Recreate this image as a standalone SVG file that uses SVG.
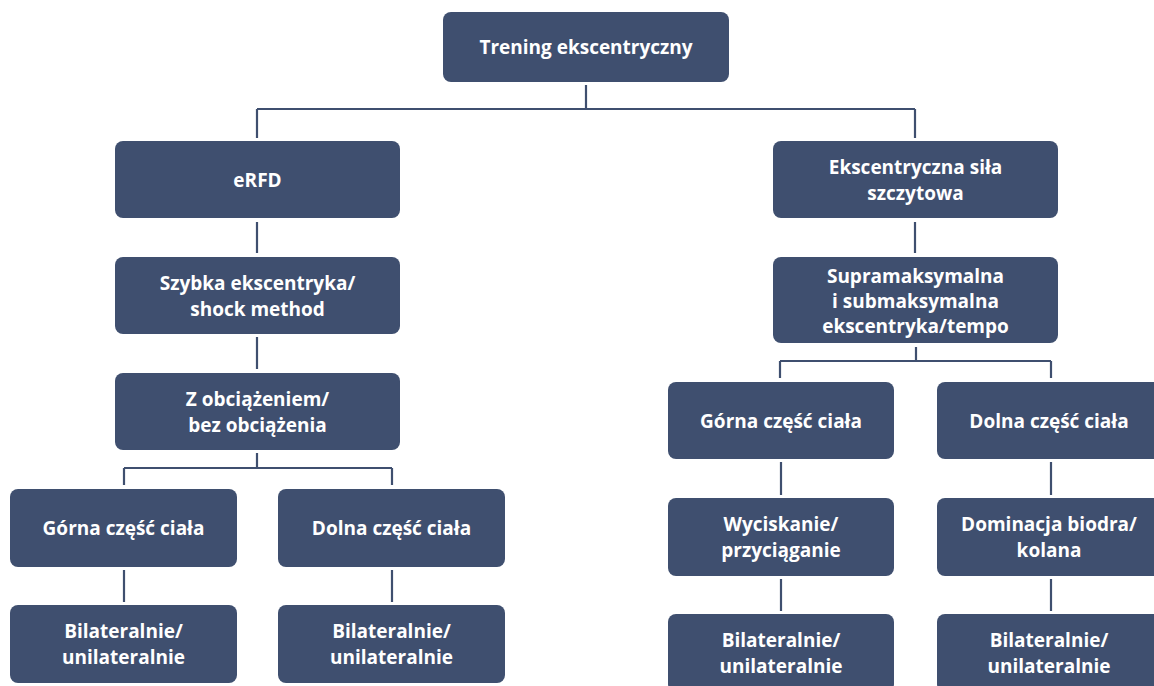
<svg xmlns="http://www.w3.org/2000/svg" width="1154" height="686" viewBox="0 0 1154 686">
<style>
.box{fill:#3f4f6f;}
.t{fill:#ffffff;font-family:"Open Sans","Liberation Sans",sans-serif;font-weight:700;font-size:19px;text-anchor:middle;}
.c{stroke:#3f4f6f;stroke-width:2.2;fill:none;}
</style>
<rect width="1154" height="686" fill="#ffffff"/>
<g id="connectors">
<path class="c" d="M586,85V109M257,109H915M257,109V138M915,109V138"/>
<path class="c" d="M257,222V253M257,337V369M257,453V468M124,468H392M124,468V485M392,468V485M124,570V602M392,570V602"/>
<path class="c" d="M915,222V253M916,347V361M780,361H1051M780,361V378M1051,361V378"/>
<path class="c" d="M781,462V495M781,579V611M1051,462V495M1051,579V611"/>
</g>
<g id="n-root"><rect class="box" x="443" y="12" width="286" height="70" rx="8"/><text class="t" x="586" y="54">Trening ekscentryczny</text></g>
<g id="n-erfd"><rect class="box" x="115" y="141" width="285" height="77" rx="8"/><text class="t" x="257.5" y="187">eRFD</text></g>
<g id="n-szybka"><rect class="box" x="115" y="257" width="285" height="77" rx="8"/><text class="t" x="257.5" y="290">Szybka ekscentryka/</text><text class="t" x="257.5" y="316">shock method</text></g>
<g id="n-zobc"><rect class="box" x="115" y="373" width="285" height="77" rx="8"/><text class="t" x="257.5" y="406">Z obciążeniem/</text><text class="t" x="257.5" y="432">bez obciążenia</text></g>
<g id="n-gornaL"><rect class="box" x="10" y="489" width="227" height="78" rx="8"/><text class="t" x="123.5" y="535">Górna część ciała</text></g>
<g id="n-dolnaL"><rect class="box" x="278" y="489" width="227" height="78" rx="8"/><text class="t" x="391.5" y="535">Dolna część ciała</text></g>
<g id="n-bilatL1"><rect class="box" x="10" y="605" width="227" height="78" rx="8"/><text class="t" x="123.5" y="638">Bilateralnie/</text><text class="t" x="123.5" y="664">unilateralnie</text></g>
<g id="n-bilatL2"><rect class="box" x="278" y="605" width="227" height="78" rx="8"/><text class="t" x="391.5" y="638">Bilateralnie/</text><text class="t" x="391.5" y="664">unilateralnie</text></g>
<g id="n-eks"><rect class="box" x="773" y="141" width="285" height="77" rx="8"/><text class="t" x="915.5" y="174">Ekscentryczna siła</text><text class="t" x="915.5" y="200">szczytowa</text></g>
<g id="n-supra"><rect class="box" x="773" y="257" width="285" height="86" rx="8"/><text class="t" x="915.5" y="283">Supramaksymalna</text><text class="t" x="915.5" y="308">i submaksymalna</text><text class="t" x="915.5" y="333">ekscentryka/tempo</text></g>
<g id="n-gornaR"><rect class="box" x="668" y="382" width="226" height="77" rx="8"/><text class="t" x="781" y="428">Górna część ciała</text></g>
<g id="n-dolnaR"><rect class="box" x="937" y="382" width="226" height="77" rx="8"/><text class="t" x="1049" y="428">Dolna część ciała</text></g>
<g id="n-wyc"><rect class="box" x="668" y="498" width="226" height="78" rx="8"/><text class="t" x="781" y="531">Wyciskanie/</text><text class="t" x="781" y="557">przyciąganie</text></g>
<g id="n-dom"><rect class="box" x="937" y="498" width="226" height="78" rx="8"/><text class="t" x="1049" y="531">Dominacja biodra/</text><text class="t" x="1049" y="557">kolana</text></g>
<g id="n-bilatR1"><rect class="box" x="668" y="614" width="226" height="78" rx="8"/><text class="t" x="781" y="647">Bilateralnie/</text><text class="t" x="781" y="673">unilateralnie</text></g>
<g id="n-bilatR2"><rect class="box" x="937" y="614" width="226" height="78" rx="8"/><text class="t" x="1049" y="647">Bilateralnie/</text><text class="t" x="1049" y="673">unilateralnie</text></g>
</svg>
